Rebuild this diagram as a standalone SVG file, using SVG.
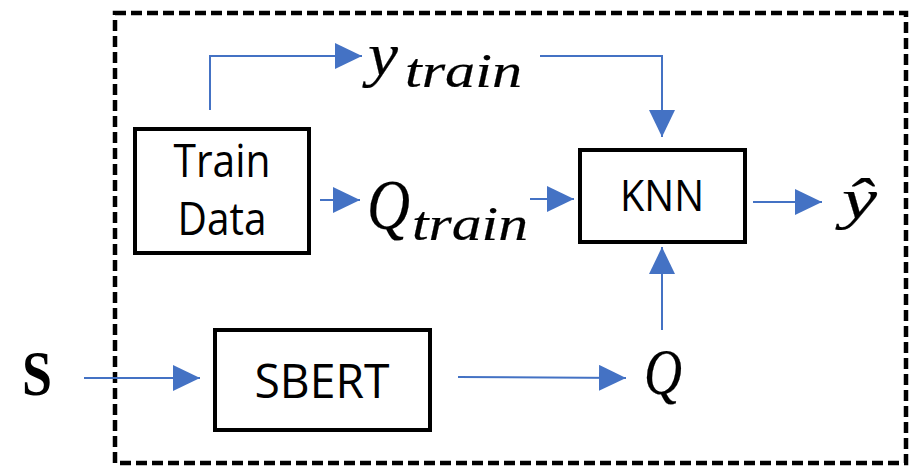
<svg xmlns="http://www.w3.org/2000/svg" width="910" height="468" viewBox="0 0 910 468">
<style>
.box{fill:#fff;stroke:#000;stroke-width:4}
.lbl{font-family:"Open Sans","Liberation Sans",sans-serif;fill:#000;text-anchor:middle}
.math{font-family:"Liberation Serif","DejaVu Serif",serif;font-style:italic;fill:#000;stroke:#000;stroke-width:0.2}
.conn{fill:none;stroke:#4472C4;stroke-width:2;marker-end:url(#ah)}
</style>
<defs>
<marker id="ah" markerUnits="userSpaceOnUse" markerWidth="28" markerHeight="28" refX="27" refY="13" orient="auto">
<path d="M0,0 L27,13 L0,26 Z" fill="#4472C4"/>
</marker>
</defs>
<rect x="115" y="13" width="791" height="450" fill="none" stroke="#000" stroke-width="4.5" stroke-dasharray="11 5"/>
<g id="connectors">
<path class="conn" d="M210,110 V56 H362"/>
<path class="conn" d="M540,56 H662 V137"/>
<path class="conn" d="M320,200 H360"/>
<path class="conn" d="M530,199 H574"/>
<path class="conn" d="M753,202 H822"/>
<path class="conn" d="M84,378 H200"/>
<path class="conn" d="M458,377 L626,378"/>
<path class="conn" d="M662,330 V247"/>
</g>
<g id="train-data">
<rect class="box" x="135" y="129" width="174" height="124"/>
<text class="lbl" x="222" y="177" font-size="46" textLength="97" lengthAdjust="spacingAndGlyphs">Train</text>
<text class="lbl" x="222" y="235" font-size="46" textLength="89" lengthAdjust="spacingAndGlyphs">Data</text>
</g>
<g id="knn">
<rect class="box" x="580" y="150" width="165" height="92"/>
<text class="lbl" x="662" y="211" font-size="43" textLength="84" lengthAdjust="spacingAndGlyphs">KNN</text>
</g>
<g id="sbert">
<rect class="box" x="215" y="330" width="215" height="100"/>
<text class="lbl" x="322" y="398" font-size="48" textLength="135" lengthAdjust="spacingAndGlyphs">SBERT</text>
</g>
<g id="y-train">
<text class="math" x="368" y="75" font-size="62" textLength="30" lengthAdjust="spacingAndGlyphs">y</text>
<text class="math" x="405" y="87" font-size="48" textLength="117" lengthAdjust="spacingAndGlyphs">train</text>
</g>
<g id="q-train">
<text class="math" x="367" y="229" font-size="72" textLength="43" lengthAdjust="spacingAndGlyphs">Q</text>
<text class="math" x="412" y="240" font-size="48" textLength="116" lengthAdjust="spacingAndGlyphs">train</text>
</g>
<g id="y-hat">
<text class="math" x="842" y="218" font-size="58" textLength="35" lengthAdjust="spacingAndGlyphs">ŷ</text>
</g>
<g id="s-input">
<text x="22" y="395" font-family="'Liberation Serif',serif" font-weight="bold" font-size="64" textLength="30" lengthAdjust="spacingAndGlyphs">S</text>
</g>
<g id="q">
<text class="math" x="644" y="394" font-size="66" textLength="38" lengthAdjust="spacingAndGlyphs">Q</text>
</g>
</svg>
